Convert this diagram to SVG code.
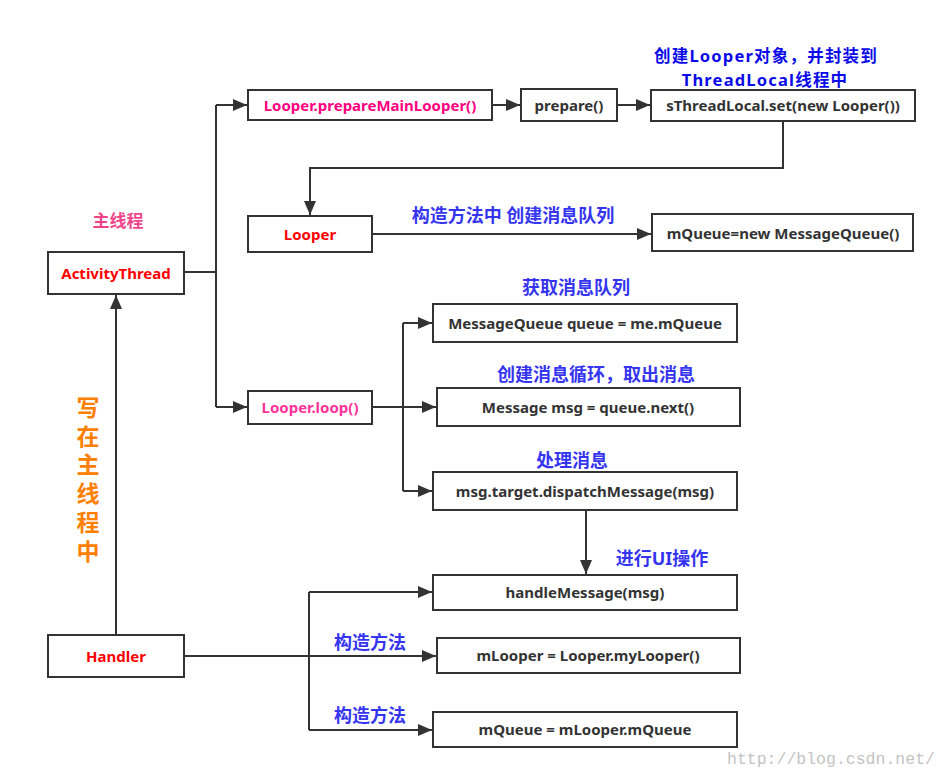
<svg xmlns="http://www.w3.org/2000/svg" width="947" height="779" viewBox="0 0 947 779">
  <style>
    .box { fill: #ffffff; stroke: #333333; stroke-width: 2; }
    .code { font-family: "Noto Sans", "Open Sans", "Noto Sans CJK SC", sans-serif; font-weight: bold; font-size: 15px; fill: #333333; text-anchor: middle; dominant-baseline: central; }
    .red { fill: #ff0000; }
    .magenta { fill: #ff0080; }
    .pink { fill: #ff3399; }
    .note { font-family: "Noto Sans", "Noto Sans CJK SC", sans-serif; font-weight: bold; font-size: 18px; fill: #3535f0; text-anchor: middle; dominant-baseline: central; }
    .note-dark { fill: #0a0ae8; font-size: 16.5px; letter-spacing: 1.2px; }
    .vertical { font-family: "Noto Sans CJK SC", sans-serif; font-weight: bold; font-size: 23px; fill: #ff8000; writing-mode: vertical-rl; letter-spacing: 5.8px; }
    .wire { fill: none; stroke: #333333; stroke-width: 2; }
  </style>
  <defs>
    <marker id="arrow" markerUnits="userSpaceOnUse" markerWidth="14" markerHeight="12" refX="14" refY="6" orient="auto">
      <path d="M0,0 L14,6 L0,12 z" fill="#333333"/>
    </marker>
  </defs>

  <rect width="947" height="779" fill="#ffffff"/>

  <!-- connectors -->
  <g id="connectors">
    <!-- ActivityThread fan-out -->
    <path class="wire" d="M184,272 H216"/>
    <path class="wire" d="M216,105 V407"/>
    <path class="wire" d="M216,105 H247" marker-end="url(#arrow)"/>
    <path class="wire" d="M216,407 H247" marker-end="url(#arrow)"/>
    <!-- prepare chain -->
    <path class="wire" d="M492,105 H520" marker-end="url(#arrow)"/>
    <path class="wire" d="M617,105 H650" marker-end="url(#arrow)"/>
    <path class="wire" d="M783,121 V168 H310 V215" marker-end="url(#arrow)"/>
    <!-- Looper constructor -->
    <path class="wire" d="M372,234 H651" marker-end="url(#arrow)"/>
    <!-- loop fan-out -->
    <path class="wire" d="M372,407 H436" marker-end="url(#arrow)"/>
    <path class="wire" d="M403,323 V491"/>
    <path class="wire" d="M403,323 H432" marker-end="url(#arrow)"/>
    <path class="wire" d="M403,491 H432" marker-end="url(#arrow)"/>
    <!-- dispatch to handleMessage -->
    <path class="wire" d="M586,510 V574" marker-end="url(#arrow)"/>
    <!-- Handler up to ActivityThread -->
    <path class="wire" d="M116,634 V295" marker-end="url(#arrow)"/>
    <!-- Handler fan-out -->
    <path class="wire" d="M184,656 H436" marker-end="url(#arrow)"/>
    <path class="wire" d="M309,592 V730"/>
    <path class="wire" d="M309,592 H432" marker-end="url(#arrow)"/>
    <path class="wire" d="M309,730 H432" marker-end="url(#arrow)"/>
  </g>

  <!-- nodes -->
  <g id="activity-thread">
    <rect class="box" x="48" y="252" width="136" height="42"/>
    <text class="code red" x="116" y="273">ActivityThread</text>
  </g>
  <g id="prepare-main-looper">
    <rect class="box" x="248" y="90" width="244" height="30"/>
    <text class="code magenta" x="370" y="105">Looper.prepareMainLooper()</text>
  </g>
  <g id="prepare">
    <rect class="box" x="521" y="89" width="96" height="32"/>
    <text class="code" x="569" y="105">prepare()</text>
  </g>
  <g id="thread-local-set">
    <rect class="box" x="651" y="90" width="264" height="31"/>
    <text class="code" x="783" y="105">sThreadLocal.set(new Looper())</text>
  </g>
  <g id="looper">
    <rect class="box" x="248" y="216" width="124" height="36"/>
    <text class="code red" x="310" y="234">Looper</text>
  </g>
  <g id="new-message-queue">
    <rect class="box" x="652" y="214" width="261" height="37"/>
    <text class="code" x="783" y="233">mQueue=new MessageQueue()</text>
  </g>
  <g id="looper-loop">
    <rect class="box" x="248" y="391" width="124" height="33"/>
    <text class="code pink" x="310" y="407">Looper.loop()</text>
  </g>
  <g id="get-queue">
    <rect class="box" x="433" y="304" width="304" height="38"/>
    <text class="code" x="585" y="323">MessageQueue queue = me.mQueue</text>
  </g>
  <g id="queue-next">
    <rect class="box" x="437" y="388" width="303" height="38"/>
    <text class="code" x="588" y="407">Message msg = queue.next()</text>
  </g>
  <g id="dispatch-message">
    <rect class="box" x="433" y="472" width="304" height="38"/>
    <text class="code" x="585" y="491">msg.target.dispatchMessage(msg)</text>
  </g>
  <g id="handle-message">
    <rect class="box" x="433" y="575" width="304" height="35"/>
    <text class="code" x="585" y="592">handleMessage(msg)</text>
  </g>
  <g id="my-looper">
    <rect class="box" x="437" y="638" width="303" height="35"/>
    <text class="code" x="588" y="655">mLooper = Looper.myLooper()</text>
  </g>
  <g id="looper-queue">
    <rect class="box" x="433" y="712" width="304" height="35"/>
    <text class="code" x="585" y="729">mQueue = mLooper.mQueue</text>
  </g>
  <g id="handler">
    <rect class="box" x="48" y="635" width="136" height="42"/>
    <text class="code red" x="116" y="656">Handler</text>
  </g>

  <!-- annotations -->
  <g id="annotations">
    <text class="note note-dark" x="766" y="55">创建Looper对象，并封装到</text>
    <text class="note note-dark" x="765" y="79">ThreadLocal线程中</text>
    <text class="note" x="513" y="215">构造方法中  创建消息队列</text>
    <text class="note" x="576" y="287">获取消息队列</text>
    <text class="note" x="596" y="374">创建消息循环，取出消息</text>
    <text class="note" x="572" y="460">处理消息</text>
    <text class="note" x="662" y="558">进行UI操作</text>
    <text class="note" x="370" y="642">构造方法</text>
    <text class="note" x="370" y="715">构造方法</text>
    <text class="note" x="118" y="220" style="fill:#f0448a;font-size:17px">主线程</text>
    <text class="vertical" x="88" y="395.5">写在主线程中</text>
    <text x="727" y="764" style="font-family:'Liberation Mono',monospace;font-size:16.5px;fill:#c4c4c4">http://blog.csdn.net/</text>
  </g>
</svg>
